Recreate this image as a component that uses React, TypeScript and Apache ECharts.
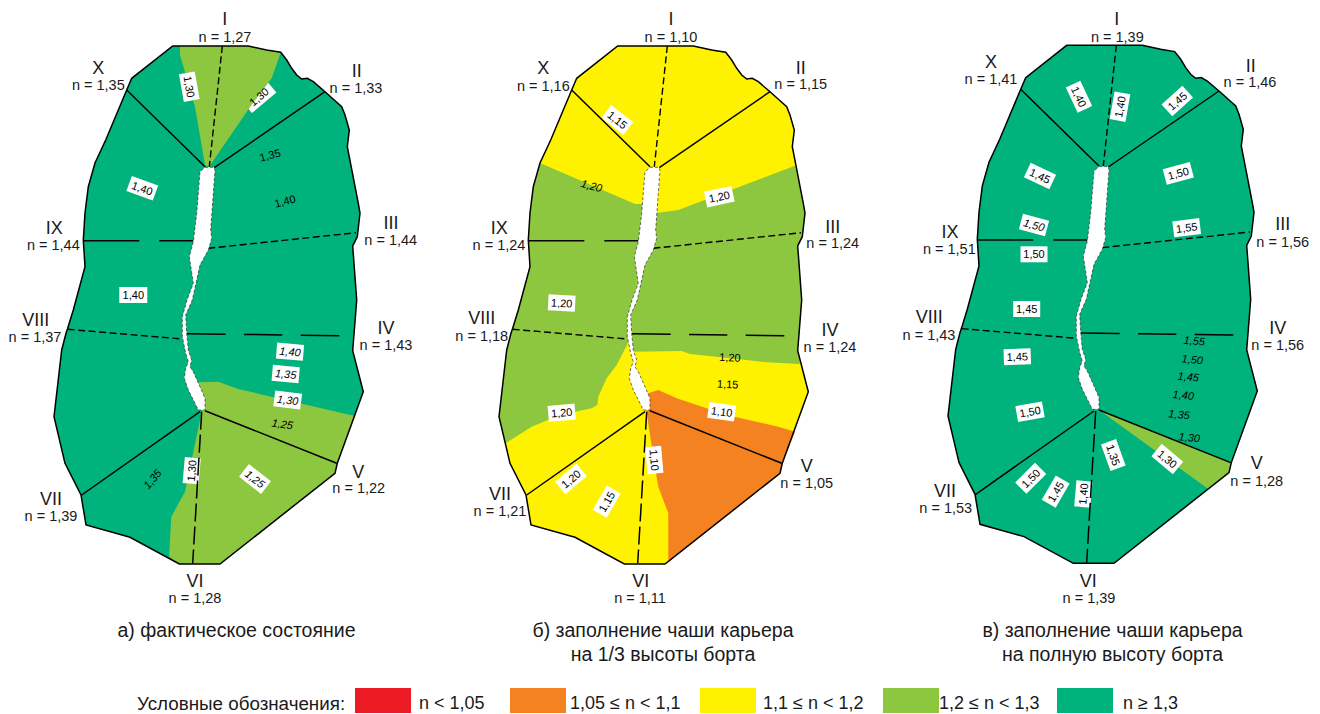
import React, { useEffect, useRef } from "react";
import * as echarts from "echarts";

const TEAL = "#00B37C";
const LIME = "#8DC63F";
const YELLOW = "#FFF200";
const ORANGE = "#F58220";
const RED = "#ED1C24";
const FONT = '"Liberation Sans", Arial, sans-serif';

type P = number[];

// Shared geometry, expressed in the coordinates of the first panel
const outline: P[] = [
  [172.7, 46], [248.3, 46], [266.7, 50], [280.7, 52.3], [286.7, 60], [291.7, 68.3], [296.7, 75], [301.7, 79], [307.3, 78.3],
  [313.3, 81.7], [325, 91.7], [341.7, 106.7], [345, 115], [349.3, 130], [347.3, 146.7], [358.3, 203.3], [360, 213], [357.3, 236.7],
  [352.7, 246], [356.7, 300], [352.7, 350.7], [363.3, 391.7], [337.3, 463.3], [335, 473.3], [220, 564],
  [179.3, 564], [130, 537.3], [86, 525], [81, 495], [65, 463.3], [54, 416.7], [61.7, 350], [66, 333.3],
  [67.7, 328.3], [73.3, 310], [85, 266.7], [83.3, 240], [85, 213], [88.3, 186.7], [95, 163], [105.7, 140],
  [126.7, 90], [131.7, 78.3],
];
const pit: P[] = [
  [205, 167.3], [214, 167.3], [215, 170], [210.7, 230], [211.7, 238.3], [208.3, 250], [200, 265], [192.3, 300],
  [185.7, 315], [186.7, 333], [188.3, 350], [191.7, 360], [190, 366.7], [193.3, 371.7], [200, 386.7], [205, 398.3],
  [205, 410], [198.3, 410], [195, 403.3], [188.3, 390], [184.3, 378.3], [185.7, 368.3], [188.3, 361.7], [185.7, 353.3],
  [182.3, 336.7], [182.3, 316.7], [187, 300], [193.3, 283.3], [189.3, 256.7], [193.3, 241.7], [196.7, 213.3], [200, 171.7],
];
const solidLines: P[][] = [
  [[126.7, 90], [205, 166.7]],
  [[325, 91.7], [214.3, 167.7]],
  [[84, 240.7], [139.3, 240.7]],
  [[159.3, 240.7], [193.3, 240.7]],
  [[81.7, 495], [200, 411.7]],
  [[205, 410.7], [336.7, 463.3]],
];
const shortDashLines: P[][] = [
  [[222.3, 46], [209.3, 166.7]],
  [[208.3, 248.3], [356, 232.7]],
  [[67.7, 329.3], [182.3, 339]],
];
const longDashLines: P[][] = [
  [[186.7, 333.7], [225.7, 334.2]],
  [[244, 334.4], [282.3, 334.9]],
  [[300.7, 335.2], [339.3, 335.7]],
];
const sixthLine: P[][] = [[[201.7, 411.7], [192.7, 563.3]]];

// Colour zones per panel
const zonesA: [string, P[]][] = [
  [LIME, [[180, 46], [248.3, 46], [266.7, 50], [280.7, 52.3], [271.7, 78.3], [250, 107], [209, 167], [205, 165], [195, 106.7], [180, 55]]],
  [LIME, [[198.3, 382.3], [218.3, 381.7], [238.3, 389], [355, 416], [337.3, 463.3], [335, 473.3], [220, 564], [179.3, 564], [169, 556.7], [171.3, 516.7], [185, 491.7], [201.7, 411.7], [203, 395]]],
];
const zonesB: [string, P[]][] = [
  [LIME, [[95, 163], [190, 204], [200, 204], [200, 240], [188, 300], [184.5, 340], [171.7, 365], [161.7, 378.3], [153.3, 396.7], [152.3, 405], [146.7, 408.3], [115, 415], [86.7, 426.7], [60.5, 443.3], [54, 416.7], [61.7, 350], [66, 333.3], [67.7, 328.3], [73.3, 310], [85, 266.7], [83.3, 240], [85, 213], [88.3, 186.7]]],
  [LIME, [[200, 204], [213.3, 212.7], [233.3, 210], [350, 165.7], [358.3, 203.3], [360, 213], [357.3, 236.7], [352.7, 246], [356.7, 300], [352.7, 350.7], [355, 364], [321.7, 362.3], [295, 359.3], [245, 354], [236.7, 351], [187, 351.7], [184.5, 340], [188, 300], [200, 240]]],
  [ORANGE, [[203, 393.3], [213.3, 390], [231.7, 398.3], [281.7, 415], [333.3, 426.7], [350, 431.7], [337.3, 463.3], [335, 473.3], [223.3, 562.3], [223.3, 513.3], [213.3, 486.7], [208.3, 456.7], [203.3, 423.3], [201.7, 411.7], [202, 400]]],
];
const zonesC: [string, P[]][] = [
  [LIME, [[205, 410.7], [337.3, 463.3], [335, 473.3], [314.3, 489.6]]],
];
const baseColors = [TEAL, YELLOW, TEAL];
const panelZones = [zonesA, zonesB, zonesC];
const panelDx = [0, 445, 894];
const panelDy = [0, 0, -0.7];

// text, x, y, degrees counter-clockwise, white box width (0 = none), italic
type L = [string, number, number, number, number, boolean];
const contourLabels: L[] = [
  ["1,30", 189.3, 86.7, -80, 28, false],
  ["1,35", 270, 155, 15, 0, false],
  ["1,40", 285, 201, 15, 0, false],
  ["1,40", 142.3, 188.3, -20, 28, false],
  ["1,40", 133.3, 295, 0, 28, false],
  ["1,40", 290, 351.7, -5, 27, true],
  ["1,35", 285.7, 374, -5, 27, true],
  ["1,30", 287.7, 400, -7, 27, true],
  ["1,25", 282.3, 424, -8, 0, true],
  ["1,25", 255, 479, -38, 28, true],
  ["1,30", 191.7, 470.7, 85, 26, false],
  ["1,35", 152.3, 479, 50, 0, true],
  ["1,15", 617.3, 120, -38, 28, false],
  ["1,20", 591.7, 185.7, -15, 0, true],
  ["1,20", 719.3, 196.7, 12, 28, false],
  ["1,20", 561.7, 303, -3, 27, false],
  ["1,20", 730, 357.3, -3, 0, false],
  ["1,15", 727.7, 384, -3, 0, false],
  ["1,10", 721.7, 411.7, -8, 27, false],
  ["1,20", 561.7, 412.7, 5, 27, false],
  ["1,20", 571, 479, 40, 28, false],
  ["1,15", 606.7, 501.7, 60, 28, false],
  ["1,10", 654.3, 460, -85, 27, false],
  ["1,40", 1079, 96.7, -65, 28, false],
  ["1,40", 1120, 106.7, 80, 28, false],
  ["1,45", 1177.3, 101, 42, 28, false],
  ["1,45", 1040, 176, -25, 28, false],
  ["1,50", 1178.3, 173.3, 15, 28, false],
  ["1,50", 1034, 225, -15, 27, true],
  ["1,50", 1034, 254.3, 0, 27, false],
  ["1,55", 1186.7, 227.7, 7, 27, false],
  ["1,45", 1026.7, 309, 0, 27, false],
  ["1,45", 1017.3, 356.7, 2, 27, false],
  ["1,50", 1030, 411.7, 10, 27, false],
  ["1,55", 1194.3, 340.7, -5, 0, true],
  ["1,50", 1192.3, 359.3, -5, 0, true],
  ["1,45", 1188.3, 376.7, -5, 0, true],
  ["1,40", 1183.3, 395, -5, 0, true],
  ["1,35", 1179, 414.3, -5, 0, true],
  ["1,30", 1189.3, 437.3, -5, 0, true],
  ["1,35", 1113.3, 455, -70, 28, false],
  ["1,30", 1167.3, 459, -40, 28, false],
  ["1,50", 1030.7, 478.3, 45, 28, false],
  ["1,45", 1055.7, 491.7, 60, 28, false],
  ["1,40", 1083.3, 494, 85, 26, false],
];
// White plate that sits beneath the lime zone of the first panel
const hiddenPlates: L[] = [["", 259, 96.7, 40, 32, false]];
const plateTextsOnZone: L[] = [["1,30", 259, 96.7, 40, 0, false]];

const sectionNames = ["I", "II", "III", "IV", "V", "VI", "VII", "VIII", "IX", "X"];
const sectionN = [
  ["1,27", "1,33", "1,44", "1,43", "1,22", "1,28", "1,39", "1,37", "1,44", "1,35"],
  ["1,10", "1,15", "1,24", "1,24", "1,05", "1,11", "1,21", "1,18", "1,24", "1,16"],
  ["1,39", "1,46", "1,56", "1,56", "1,28", "1,39", "1,53", "1,43", "1,51", "1,41"],
];
const sectionNamePos: P[][] = [
  [[224.7, 19.3], [356.7, 71], [391, 223.3], [386, 328.3], [358.3, 471.7], [195, 580.7], [51, 499], [35.7, 320], [54.3, 227.7], [98.3, 68.3]],
  [[671, 19.3], [800.7, 67.7], [832.7, 226.7], [830, 330], [806.7, 465.7], [640.7, 580.7], [500, 494], [481.7, 318.3], [499.3, 228.3], [543.3, 68.3]],
  [[1116.7, 19.3], [1250.7, 65.7], [1282.7, 224], [1277.7, 328.3], [1256.7, 463.3], [1088.3, 580.7], [945, 490.7], [929.3, 317.3], [950, 231.7], [991, 61.7]],
];
const sectionValuePos: P[][] = [
  [[225, 36.7], [356, 88.3], [390.7, 240], [386, 345], [358.7, 488.3], [195, 597.7], [51, 516], [35, 337], [53.3, 245], [98.3, 85]],
  [[671, 36.7], [800.7, 84.3], [832.7, 243.3], [830, 347.3], [806.7, 482.7], [640, 597.7], [500, 511.3], [481.7, 335.7], [499, 245], [543.3, 85.7]],
  [[1117.3, 36.7], [1250, 82.3], [1282.7, 241.7], [1277.7, 345], [1256.7, 481], [1089, 597.7], [945.7, 508], [929, 334.7], [949.3, 249], [991, 79.3]],
];

const captions: [string, number, number][] = [
  ["а) фактическое состояние", 236.5, 630],
  ["б) заполнение чаши карьера", 663, 630],
  ["на 1/3 высоты борта", 663, 654],
  ["в) заполнение чаши карьера", 1112.5, 630],
  ["на полную высоту борта", 1112.5, 654],
];
const legendTitle = "Условные обозначения:";
const legendColors = [RED, ORANGE, YELLOW, LIME, TEAL];
const legendLabels = ["n < 1,05", "1,05 ≤ n < 1,1", "1,1 ≤ n < 1,2", "1,2 ≤ n < 1,3", "n ≥ 1,3"];
const legendSwatchX = [355, 510, 700, 883, 1057];
const legendTextX = [419, 570, 763, 939, 1123];

const rad = (d: number) => (d * Math.PI) / 180;

function layer(count: number, render: (i: number, api: any) => any) {
  return {
    type: "custom",
    coordinateSystem: "cartesian2d",
    clip: false,
    silent: true,
    data: Array.from({ length: count }, (_, i) => [i, i]),
    renderItem: (params: any, api: any) => render(params.dataIndex, api),
  };
}

const label = (l: L, api: any) => {
  const [x, y] = api.coord([l[1], l[2]]);
  const children: any[] = [];
  if (l[4] > 0) {
    children.push({ type: "rect", shape: { x: -l[4] / 2, y: -8, width: l[4], height: 16 }, style: { fill: "#fff" } });
  }
  if (l[0]) {
    children.push({
      type: "text",
      style: {
        text: l[0], x: 0, y: 0, align: "center", verticalAlign: "middle", fill: "#000",
        font: `${l[5] ? "italic " : ""}11px ${FONT}`,
      },
    });
  }
  return { type: "group", x, y, rotation: rad(l[3]), children };
};

const shift = (pts: P[], p: number, api: any) =>
  pts.map((q) => api.coord([q[0] + panelDx[p], q[1] + panelDy[p]]));

const textEl = (text: string, x: number, y: number, size: number, align: string, api: any) => {
  const c = api.coord([x, y]);
  return {
    type: "text",
    x: c[0],
    y: c[1],
    style: { text, x: 0, y: 0, align, verticalAlign: "middle", fill: "#1a1a1a", font: `${size}px ${FONT}` },
  };
};

const allZones: [number, string, P[]][] = panelZones.flatMap((zs, p) =>
  zs.map((z) => [p, z[0], z[1]] as [number, string, P[]])
);

const lineLayer = (lines: P[][], dash: number[] | null, width: number) =>
  layer(lines.length * 3, (i, api) => {
    const p = i % 3;
    const s = lines[Math.floor(i / 3)];
    const [a, b] = shift(s, p, api);
    return {
      type: "line",
      shape: { x1: a[0], y1: a[1], x2: b[0], y2: b[1] },
      style: { stroke: "#000", lineWidth: width, lineDash: dash || undefined, fill: "none" },
    };
  });

const option = {
  animation: false,
  grid: { left: 0, right: 0, top: 0, bottom: 0 },
  xAxis: { type: "value", min: 0, max: 1320, show: false },
  yAxis: { type: "value", min: 0, max: 714, inverse: true, show: false },
  series: [
    layer(3, (p, api) => ({ type: "polygon", shape: { points: shift(outline, p, api) }, style: { fill: baseColors[p] } })),
    layer(hiddenPlates.length, (i, api) => label(hiddenPlates[i], api)),
    layer(allZones.length, (i, api) => ({
      type: "polygon",
      shape: { points: shift(allZones[i][2], allZones[i][0], api) },
      style: { fill: allZones[i][1] },
    })),
    layer(contourLabels.length, (i, api) => label(contourLabels[i], api)),
    layer(plateTextsOnZone.length, (i, api) => label(plateTextsOnZone[i], api)),
    lineLayer(solidLines, null, 1.5),
    lineLayer(shortDashLines, [7, 3.5], 1.4),
    lineLayer(longDashLines, null, 1.5),
    lineLayer(sixthLine, [18, 5], 1.5),
    layer(3, (p, api) => ({
      type: "polygon",
      shape: { points: shift(pit, p, api) },
      style: { fill: "#fff", stroke: "#333", lineWidth: 0.7, lineDash: [3, 2] },
    })),
    layer(3, (p, api) => ({
      type: "polygon",
      shape: { points: shift(outline, p, api) },
      style: { fill: "none", stroke: "#000", lineWidth: 1.5 },
    })),
    layer(30, (i, api) => {
      const p = Math.floor(i / 10);
      const s = i % 10;
      const c = sectionNamePos[p][s];
      return textEl(sectionNames[s], c[0], c[1], 18, "center", api);
    }),
    layer(30, (i, api) => {
      const p = Math.floor(i / 10);
      const s = i % 10;
      const c = sectionValuePos[p][s];
      return textEl(`n = ${sectionN[p][s]}`, c[0], c[1], 14.5, "center", api);
    }),
    layer(captions.length, (i, api) => textEl(captions[i][0], captions[i][1], captions[i][2], 19.5, "center", api)),
    layer(1, (_i, api) => textEl(legendTitle, 137, 703, 18.8, "left", api)),
    layer(legendColors.length, (i, api) => {
      const c = api.coord([legendSwatchX[i], 688]);
      return { type: "rect", shape: { x: c[0], y: c[1], width: 56, height: 25 }, style: { fill: legendColors[i] } };
    }),
    layer(legendLabels.length, (i, api) => textEl(legendLabels[i], legendTextX[i], 703, 18, "left", api)),
  ],
};

export default function App() {
  const ref = useRef<HTMLDivElement>(null);
  useEffect(() => {
    document.body.style.margin = "0";
    const chart = echarts.init(ref.current!, null, { renderer: "svg" });
    chart.setOption(option as any);
    return () => chart.dispose();
  }, []);
  return <div ref={ref} style={{ width: 1320, height: 714, background: "#fff" }} />;
}
